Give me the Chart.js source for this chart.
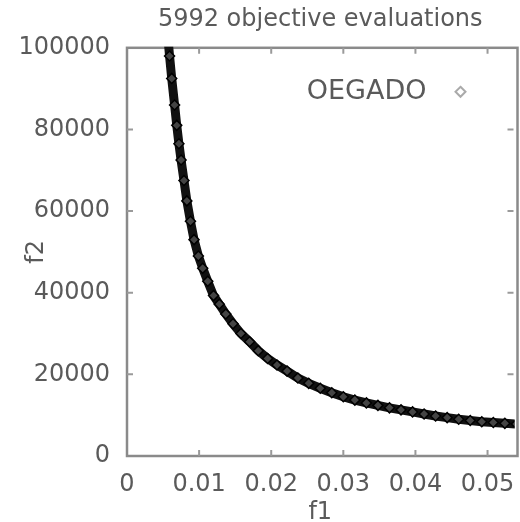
<!DOCTYPE html>
<html><head><meta charset="utf-8">
<script src="https://cdn.jsdelivr.net/npm/chart.js@4.4.1/dist/chart.umd.min.js"></script>
<style>html,body{margin:0;padding:0;background:#fff;} canvas{display:block;}</style>
</head><body>
<canvas id="c" width="520" height="522"></canvas>
<script>
const chartTitle = '5992 objective evaluations';
const seriesName = 'OEGADO';
const xAxisTitle = 'f1';
const yAxisTitle = 'f2';
const f1Values = [0.0056,0.0059,0.0062,0.0066,0.0069,0.0072,0.0075,0.0079,0.0083,0.0088,0.0093,0.0099,0.0105,0.0112,0.0120,0.0128,0.0137,0.0147,0.0158,0.0170,0.0182,0.0195,0.0208,0.0222,0.0237,0.0252,0.0268,0.0284,0.0300,0.0316,0.0332,0.0348,0.0364,0.0380,0.0396,0.0412,0.0428,0.0444,0.0460,0.0476,0.0492,0.0508,0.0524,0.0540];
const f2Values = [104000,98000,92500,86000,81000,76500,72500,67500,62500,57500,53000,49000,46000,42800,39300,37200,34800,32400,30000,28000,25800,23900,22300,20800,19100,17800,16600,15500,14500,13700,13000,12400,11800,11300,10800,10300,9800,9400,9000,8700,8400,8200,8000,7850];
const xTickValues = [0,0.01,0.02,0.03,0.04,0.05];
const xTickLabels = ['0','0.01','0.02','0.03','0.04','0.05'];
const yTickValues = [0,20000,40000,60000,80000,100000];
const yTickLabels = ['0','20000','40000','60000','80000','100000'];

const points = f1Values.map((x, i) => ({x: x, y: f2Values[i]}));
const FONT = 'DejaVu Sans';
const TEXT = '#5a5a5a';

const framePlugin = {
  id: 'frame',
  beforeDatasetsDraw(chart) {
    const {ctx, chartArea: a, scales} = chart;
    ctx.save();
    ctx.strokeStyle = '#8a8a8a';
    ctx.lineWidth = 2.5;
    ctx.strokeRect(a.left, a.top, a.right - a.left + 4, a.bottom - a.top);
    ctx.strokeStyle = '#9a9a9a';
    ctx.lineWidth = 2;
    const tl = 6;
    scales.x.ticks.forEach(t => {
      const px = scales.x.getPixelForValue(t.value);
      if (px <= a.left + 2 || px >= a.right - 2) return;
      ctx.beginPath();
      ctx.moveTo(px, a.bottom); ctx.lineTo(px, a.bottom - tl);
      ctx.moveTo(px, a.top); ctx.lineTo(px, a.top + tl);
      ctx.stroke();
    });
    scales.y.ticks.forEach(t => {
      const py = scales.y.getPixelForValue(t.value);
      if (py <= a.top + 2 || py >= a.bottom - 2) return;
      ctx.beginPath();
      ctx.moveTo(a.left, py); ctx.lineTo(a.left + tl, py);
      ctx.moveTo(a.right, py); ctx.lineTo(a.right - tl, py);
      ctx.stroke();
    });
    ctx.restore();
  },
  afterDraw(chart) {
    const {ctx, chartArea: a} = chart;
    ctx.save();
    ctx.font = '27px "' + FONT + '"';
    ctx.fillStyle = TEXT;
    ctx.textAlign = 'right';
    ctx.textBaseline = 'middle';
    const y = a.top + 44;
    ctx.fillText(seriesName, a.right - 87, y);
    const mx = a.right - 53, s = 5;
    ctx.strokeStyle = '#aaa';
    ctx.lineWidth = 2;
    ctx.beginPath();
    ctx.moveTo(mx, y - s); ctx.lineTo(mx + s, y); ctx.lineTo(mx, y + s); ctx.lineTo(mx - s, y); ctx.closePath();
    ctx.stroke();
    ctx.restore();
  }
};

new Chart(document.getElementById('c'), {
  type: 'scatter',
  data: {
    datasets: [{
      label: seriesName,
      data: points,
      showLine: true,
      borderColor: '#111',
      borderWidth: 9,
      pointStyle: 'rectRot',
      pointRadius: 5,
      pointBorderWidth: 1.5,
      pointBorderColor: '#000',
      pointBackgroundColor: '#444',
      clip: 1
    }]
  },
  options: {
    responsive: false,
    animation: false,
    layout: {padding: {top: 0, left: 0, right: 1, bottom: 0}},
    plugins: {
      legend: {display: false},
      tooltip: {enabled: false},
      title: {
        display: true,
        text: chartTitle,
        fullSize: false,
        color: TEXT,
        font: {family: FONT, size: 24, weight: 'normal', lineHeight: 1.2},
        padding: {top: 5, bottom: 14}
      }
    },
    scales: {
      x: {
        type: 'linear',
        min: 0,
        max: 0.0536,
        grid: {display: false, drawTicks: false},
        border: {display: false},
        afterBuildTicks: s => { s.ticks = xTickValues.map(v => ({value: v})); },
        afterFit: s => { s.height = 66; s.paddingLeft = 0; s.paddingRight = 0; },
        ticks: {
          color: TEXT,
          padding: 14,
          maxRotation: 0,
          autoSkip: false,
          font: {family: FONT, size: 24},
          callback: v => xTickLabels[xTickValues.indexOf(v)]
        },
        title: {
          display: true, text: xAxisTitle, color: TEXT,
          font: {family: FONT, size: 24, lineHeight: 0.8},
          padding: {top: 0, bottom: 0}
        }
      },
      y: {
        type: 'linear',
        min: 0,
        max: 100000,
        grid: {display: false, drawTicks: false},
        border: {display: false},
        afterBuildTicks: s => { s.ticks = yTickValues.map(v => ({value: v})); },
        afterFit: s => { s.width = 127; s.paddingTop = 0; s.paddingBottom = 0; },
        ticks: {
          color: TEXT,
          padding: 17,
          autoSkip: false,
          font: {family: FONT, size: 24},
          callback: v => yTickLabels[yTickValues.indexOf(v)]
        },
        title: {
          display: true, text: yAxisTitle, color: TEXT,
          font: {family: FONT, size: 24, lineHeight: 1},
          padding: {top: 25, bottom: 0}
        }
      }
    }
  },
  plugins: [framePlugin]
});
</script>
</body></html>
